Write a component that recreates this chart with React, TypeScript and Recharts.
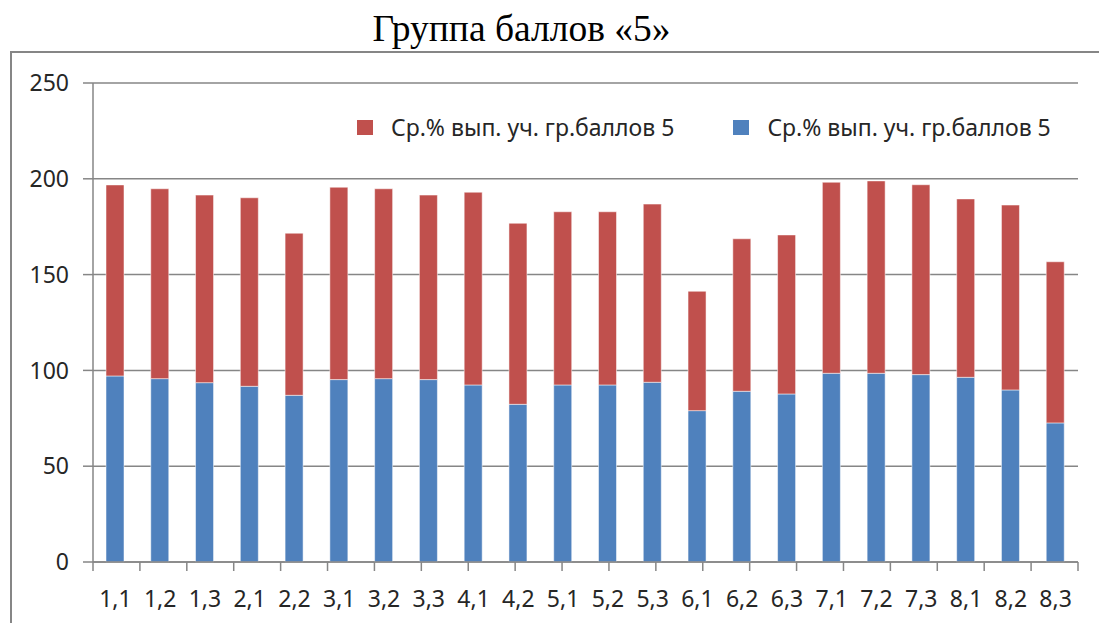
import React from 'react';
import { BarChart, Bar, XAxis, YAxis, CartesianGrid } from 'recharts';

const categories = ['1,1','1,2','1,3','2,1','2,2','3,1','3,2','3,3','4,1','4,2','5,1','5,2','5,3','6,1','6,2','6,3','7,1','7,2','7,3','8,1','8,2','8,3'];
const blueValues = [97.1, 95.7, 93.6, 91.7, 87.0, 95.2, 95.7, 95.2, 92.4, 82.3, 92.4, 92.4, 93.8, 79.0, 89.1, 87.7, 98.5, 98.5, 97.8, 96.4, 89.8, 72.6];
const redValues = [99.7, 99.1, 97.9, 98.4, 84.6, 100.4, 99.1, 96.3, 100.6, 94.5, 90.4, 90.4, 93.0, 62.3, 79.6, 83.0, 99.7, 100.4, 99.1, 93.1, 96.5, 84.1];
const yTicks = [0, 50, 100, 150, 200, 250];
const seriesName = 'Ср.% вып. уч. гр.баллов 5';
const title = 'Группа баллов «5»';

const RED = '#C0504D';
const BLUE = '#4F81BD';
const legendItems = [
  { name: seriesName, color: RED },
  { name: seriesName, color: BLUE },
];

const data = categories.map((c, i) => ({ cat: c, blue: blueValues[i], red: redValues[i] }));
const boundaryTicks = Array.from({ length: categories.length + 1 }, (_, i) => i);

const FONT = '"Noto Sans", sans-serif';
const GRID = '#868686';
const TEXT = '#262626';
const FS = 23;

export default function App() {
  return (
    <div style={{ position: 'absolute', left: 0, top: 0, width: 1099, height: 623, overflow: 'hidden', background: '#fff' }}>
      <div style={{ position: 'absolute', left: 0, top: 7, width: 1043, textAlign: 'center', fontFamily: '"Liberation Serif", serif', fontSize: 37.5, color: '#000', lineHeight: '44px' }}>
        {title}
      </div>
      <div style={{ position: 'absolute', left: 10, top: 51, width: 1200, height: 700, borderTop: `2px solid ${GRID}`, borderLeft: `2px solid ${GRID}` }} />
      <div style={{ position: 'absolute', left: 0, top: 0 }}>
        <BarChart width={1099} height={623} data={data} margin={{ top: 83, right: 21, bottom: 0, left: 10 }}>
          <CartesianGrid vertical={false} stroke={GRID} strokeWidth={1.5} />
          <XAxis xAxisId={0} type="number" domain={[0, categories.length]} ticks={boundaryTicks} height={9}
            axisLine={{ stroke: GRID, strokeWidth: 1.5 }} tickLine={{ stroke: GRID, strokeWidth: 1.5 }} tickSize={9}
            tickFormatter={() => ''} interval={0} allowDataOverflow />
          <XAxis xAxisId="cat" dataKey="cat" height={52} tickLine={false} axisLine={false} tickSize={0} tickMargin={20} interval={0}
            tick={{ fontFamily: FONT, fontSize: FS, fill: TEXT }} />
          <YAxis domain={[0, 250]} ticks={yTicks} width={83} tickSize={10} tickMargin={14} interval={0}
            axisLine={{ stroke: GRID, strokeWidth: 1.5 }} tickLine={{ stroke: GRID, strokeWidth: 1.5 }}
            tick={{ fontFamily: FONT, fontSize: FS, fill: TEXT }} />
          <Bar xAxisId="cat" dataKey="blue" name={seriesName} stackId="s" fill={BLUE} barSize={18} isAnimationActive={false} stroke="#ffffff" strokeOpacity={0.5} strokeWidth={1} />
          <Bar xAxisId="cat" dataKey="red" name={seriesName} stackId="s" fill={RED} barSize={18} isAnimationActive={false} stroke="#ffffff" strokeOpacity={0.5} strokeWidth={1} />
        </BarChart>
      </div>
      <div style={{ position: 'absolute', left: 357, top: 111, display: 'flex', fontFamily: FONT, fontSize: FS, color: TEXT, lineHeight: '32px' }}>
        {legendItems.map((it, i) => (
          <div key={i} style={{ display: 'flex', alignItems: 'center', marginRight: i === 0 ? 59 : 0 }}>
            <span style={{ display: 'inline-block', width: 16, height: 15, background: it.color, marginRight: 18 }} />
            <span>{it.name}</span>
          </div>
        ))}
      </div>
    </div>
  );
}
